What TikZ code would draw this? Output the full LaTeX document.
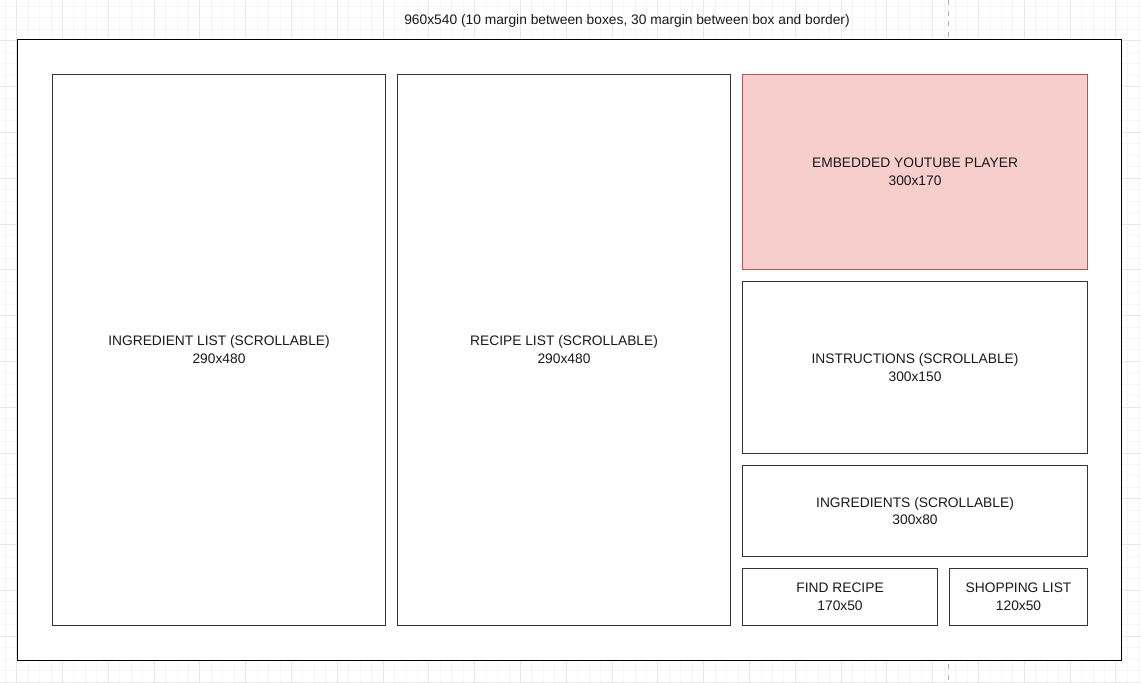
\documentclass[tikz,border=0pt]{standalone}
\usepackage{fontspec}
\setmainfont{Liberation Sans}
\definecolor{ytfill}{HTML}{F8CECC}
\definecolor{ytline}{HTML}{B85450}
\tikzset{
  gridminor/.style={line width=0.3pt, color=black!4},
  gridmajor/.style={line width=0.3pt, color=black!9},
  box/.style={draw=black!80, line width=0.6pt, fill=white, anchor=north west,
    align=center, font=\fontsize{7.85}{10.2}\selectfont, text=black!90, inner sep=0pt},
  sz/.style 2 args={minimum width=#1*0.02cm, minimum height=#2*0.02cm},
}
\begin{document}
\begin{tikzpicture}[x=0.02cm, y=-0.02cm]
		%%%%% BACKGROUND %%%%%
		\useasboundingbox (0,0) rectangle (1141,682);
		\fill[white] (0,0) rectangle (1141,682);
		\foreach \i in {0,...,99} {
			\draw[gridminor] ({5.05+\i*11.45},0) -- ++(0,682);
		}
		\foreach \i in {0,...,59} {
			\draw[gridminor] (0,{6.25+\i*11.45}) -- ++(1141,0);
		}
		\foreach \i in {0,...,24} {
			\draw[gridmajor] ({16.5+\i*45.8},0) -- ++(0,682);
		}
		\foreach \i in {0,...,14} {
			\draw[gridmajor] (0,{40.6+\i*45.8}) -- ++(1141,0);
		}
		\draw[black!30, dashed, line width=0.4pt] (948,0) -- (948,682);
		
		%%%%% FRAME %%%%%
		\node[box, draw=black, line width=0.8pt, sz={1104}{621}] (frame) at (17,39) {};
		\node[font=\fontsize{7.85}{10.2}\selectfont, text=black!90] (title) at (627,21)
			{960x540 (10 margin between boxes, 30 margin between box and border)};
		
		%%%%% BOXES %%%%%
		\node[box, sz={333}{551}] (inglist) at (52,74) {INGREDIENT LIST (SCROLLABLE)\\290x480};
		\node[box, sz={333}{551}] (reclist) at (397,74) {RECIPE LIST (SCROLLABLE)\\290x480};
		\node[box, fill=ytfill, draw=ytline, sz={345}{195}] (player) at (742,74) {EMBEDDED YOUTUBE PLAYER\\300x170};
		\node[box, sz={345}{172}] (instr) at (742,281) {INSTRUCTIONS (SCROLLABLE)\\300x150};
		\node[box, sz={345}{91}] (ingr) at (742,465) {INGREDIENTS (SCROLLABLE)\\300x80};
		\node[box, sz={195}{57}] (find) at (742,568) {FIND RECIPE\\170x50};
		\node[box, sz={138}{57}] (shop) at (949,568) {SHOPPING LIST\\120x50};
		
		%%%%% END %%%%%
	\end{tikzpicture}
\end{document}
